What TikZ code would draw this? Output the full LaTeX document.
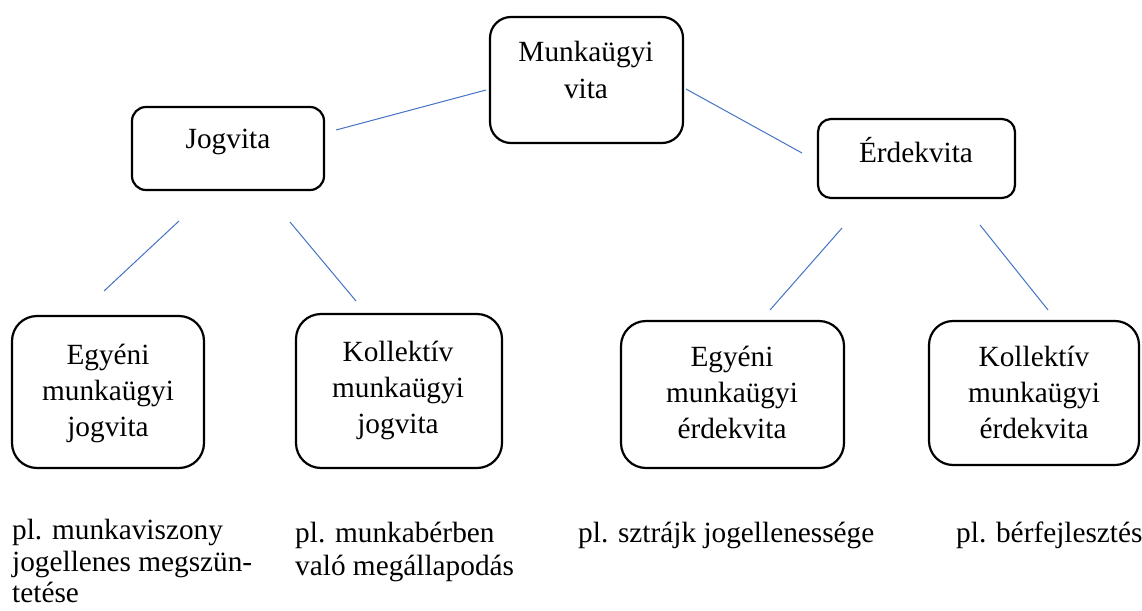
\documentclass[tikz,border=0pt]{standalone}
\usepackage{fontspec}
\setmainfont{Liberation Serif}
\definecolor{linkblue}{RGB}{68,114,196}
\begin{document}
\begin{tikzpicture}[x=1pt,y=-1pt,
  box/.style={draw=black,line width=2.2pt,inner sep=0pt,minimum width=#1},
  txt/.style={inner sep=0pt,anchor=base,font=\fontsize{29.3}{36}\selectfont},
  note/.style={inner sep=0pt,anchor=base west,font=\fontsize{29.3}{33}\selectfont},
  link/.style={draw=linkblue,line width=1pt}]
\useasboundingbox (0,0) rectangle (1142,610);
% boxes
\node[box=193pt,minimum height=126pt,rounded corners=21pt] (mv) at (586.5,80) {};
\node[box=192pt,minimum height=83pt,rounded corners=14pt] (jog) at (228,148.5) {};
\node[box=197pt,minimum height=79pt,rounded corners=13pt] (erd) at (916.5,158.5) {};
\node[box=192pt,minimum height=152pt,rounded corners=25pt] (ej) at (108,392) {};
\node[box=206pt,minimum height=154pt,rounded corners=25pt] (kj) at (399,391) {};
\node[box=223pt,minimum height=147pt,rounded corners=25pt] (ee) at (732.5,394.5) {};
\node[box=210pt,minimum height=144pt,rounded corners=24pt] (ke) at (1034,393) {};
% box texts
\node[txt] (mv1) at (586,62) {Munkaügyi};
\node[txt] (mv2) at (586,98) {vita};
\node[txt] (jog1) at (228,148) {Jogvita};
\node[txt] (erd1) at (916,162) {Érdekvita};
\node[txt] (ej1) at (108,364) {Egyéni};
\node[txt] (ej2) at (108,400) {munkaügyi};
\node[txt] (ej3) at (108,436) {jogvita};
\node[txt] (kj1) at (398,361) {Kollektív};
\node[txt] (kj2) at (398,397) {munkaügyi};
\node[txt] (kj3) at (398,433) {jogvita};
\node[txt] (ee1) at (732,366) {Egyéni};
\node[txt] (ee2) at (732,402) {munkaügyi};
\node[txt] (ee3) at (732,438) {érdekvita};
\node[txt] (ke1) at (1034,366) {Kollektív};
\node[txt] (ke2) at (1034,402) {munkaügyi};
\node[txt] (ke3) at (1034,438) {érdekvita};
% example notes
\node[note] (n1a) at (12,539) {pl. munkaviszony};
\node[note] (n1b) at (12,571) {jogellenes megszün-};
\node[note] (n1c) at (12,602) {tetése};
\node[note] (n2a) at (295,542) {pl. munkabérben};
\node[note] (n2b) at (295,575) {való megállapodás};
\node[note] (n3) at (578,542) {pl. sztrájk jogellenessége};
\node[note] (n4) at (956,542) {pl. bérfejlesztés};
% connector end points
\coordinate (a1) at (336,130); \coordinate (a2) at (486,90);
\coordinate (b1) at (686,89);  \coordinate (b2) at (802,153);
\coordinate (c1) at (179,221); \coordinate (c2) at (104,291);
\coordinate (d1) at (290,222); \coordinate (d2) at (356,301);
\coordinate (e1) at (842,228); \coordinate (e2) at (770,310);
\coordinate (f1) at (980,225); \coordinate (f2) at (1048,310);
\draw[link] (a1) -- (a2);
\draw[link] (b1) -- (b2);
\draw[link] (c1) -- (c2);
\draw[link] (d1) -- (d2);
\draw[link] (e1) -- (e2);
\draw[link] (f1) -- (f2);
\end{tikzpicture}
\end{document}
